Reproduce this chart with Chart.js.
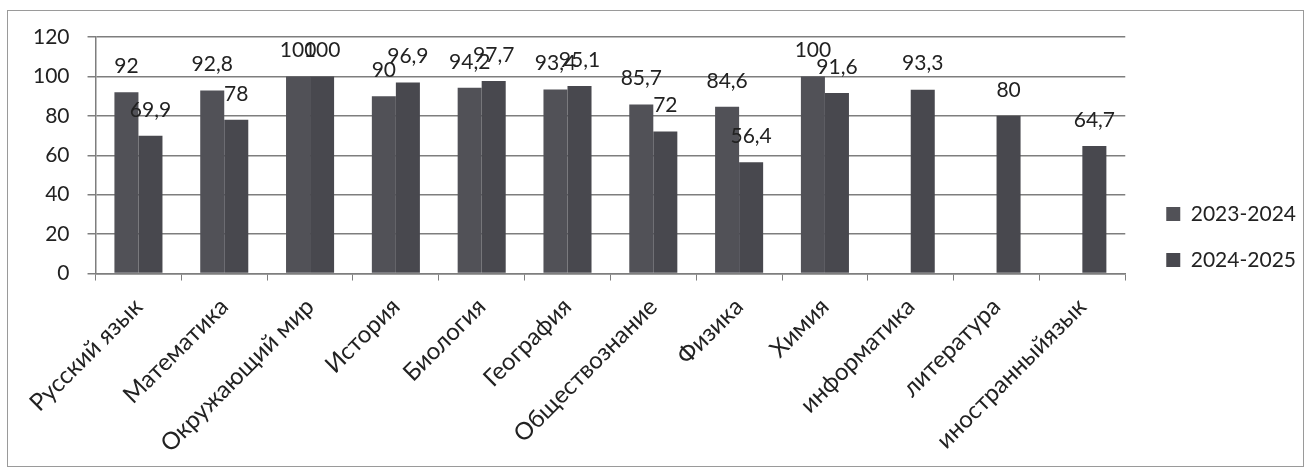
<!DOCTYPE html>
<html>
<head>
<meta charset="utf-8">
<script src="https://cdn.jsdelivr.net/npm/chart.js@4.4.1/dist/chart.umd.min.js"></script>
<style>
  html, body { margin: 0; padding: 0; background: #fff; }
  .chart-container { width: 1306px; height: 470px; position: relative; }
</style>
</head>
<body>
<div class="chart-container"><canvas id="myChart"></canvas></div>
<script>
const subjects = [
  "Русский язык", "Математика", "Окружающий мир", "История", "Биология",
  "География", "Обществознание", "Физика", "Химия", "информатика",
  "литература", "иностранныйязык"
];
const seriesNames = ["2023-2024", "2024-2025"];
const values2023 = [92, 92.8, 100, 90, 94.2, 93.4, 85.7, 84.6, 100, null, null, null];
const values2024 = [69.9, 78, 100, 96.9, 97.7, 95.1, 72, 56.4, 91.6, 93.3, 80, 64.7];
const yTicks = [0, 20, 40, 60, 80, 100, 120];

// value labels above the bars, comma as decimal mark
const valueLabels = {
  id: "valueLabels",
  afterDatasetsDraw(chart) {
    const ctx = chart.ctx;
    ctx.save();
    ctx.font = "21px Lato";
    ctx.fillStyle = "#222";
    ctx.textAlign = "center";
    ctx.textBaseline = "middle";
    chart.data.datasets.forEach((ds, i) => {
      chart.getDatasetMeta(i).data.forEach((bar, j) => {
        const v = ds.data[j];
        if (v === null) return;
        ctx.fillText(String(v).replace(".", ","), bar.x, bar.y - 26);
      });
    });
    ctx.restore();
  },
};

// thin frame round the whole chart
const frame = {
  id: "frame",
  beforeDraw(chart) {
    const ctx = chart.ctx;
    ctx.save();
    ctx.strokeStyle = "#9a9a9a";
    ctx.lineWidth = 1;
    ctx.strokeRect(7.5, 10.5, chart.width - 10, chart.height - 14);
    ctx.restore();
  },
};

const ctx = document.getElementById("myChart").getContext("2d");

new Chart(ctx, {
  type: "bar",
  data: {
    labels: subjects,
    datasets: [
      { label: seriesNames[0], data: values2023, backgroundColor: "#515157" },
      { label: seriesNames[1], data: values2024, backgroundColor: "#48484e" },
    ],
  },
  options: {
    responsive: true,
    maintainAspectRatio: false,
    animation: false,
    barPercentage: 1,
    categoryPercentage: 0.56,
    layout: { padding: { left: 15, top: 4, right: 0, bottom: 0 } },
    plugins: {
      legend: {
        position: "right",
        labels: {
          boxWidth: 14,
          boxHeight: 14,
          padding: 25,
          color: "#222",
          font: { family: "Lato", size: 21 },
        },
      },
      tooltip: { enabled: false },
    },
    scales: {
      x: {
        grid: { drawOnChartArea: false, tickLength: 7, color: "#7e7e7e" },
        border: { color: "#7e7e7e", width: 1.5 },
        ticks: {
          color: "#222",
          font: { family: "Lato", size: 24 },
          minRotation: 45,
          maxRotation: 45,
          padding: 12,
        },
      },
      y: {
        min: 0,
        max: 120,
        afterBuildTicks: (axis) => {
          axis.ticks = yTicks.map((v) => ({ value: v }));
        },
        grid: { color: "#7e7e7e", lineWidth: 1.5, tickLength: 8 },
        border: { color: "#7e7e7e", width: 1.5 },
        ticks: {
          color: "#222",
          font: { family: "Lato", size: 21 },
          padding: 18,
        },
      },
      // empty axes: they only keep gaps above the plot and before the legend
      topGap: {
        position: "top",
        display: true,
        grid: { display: false },
        border: { display: false },
        ticks: { display: false },
        afterFit: (axis) => { axis.height = 33; },
      },
      gap: {
        position: "right",
        display: true,
        grid: { display: false },
        border: { display: false },
        ticks: { display: false },
        afterFit: (axis) => { axis.width = 16; },
      },
    },
  },
  plugins: [valueLabels, frame],
});
</script>
</body>
</html>
